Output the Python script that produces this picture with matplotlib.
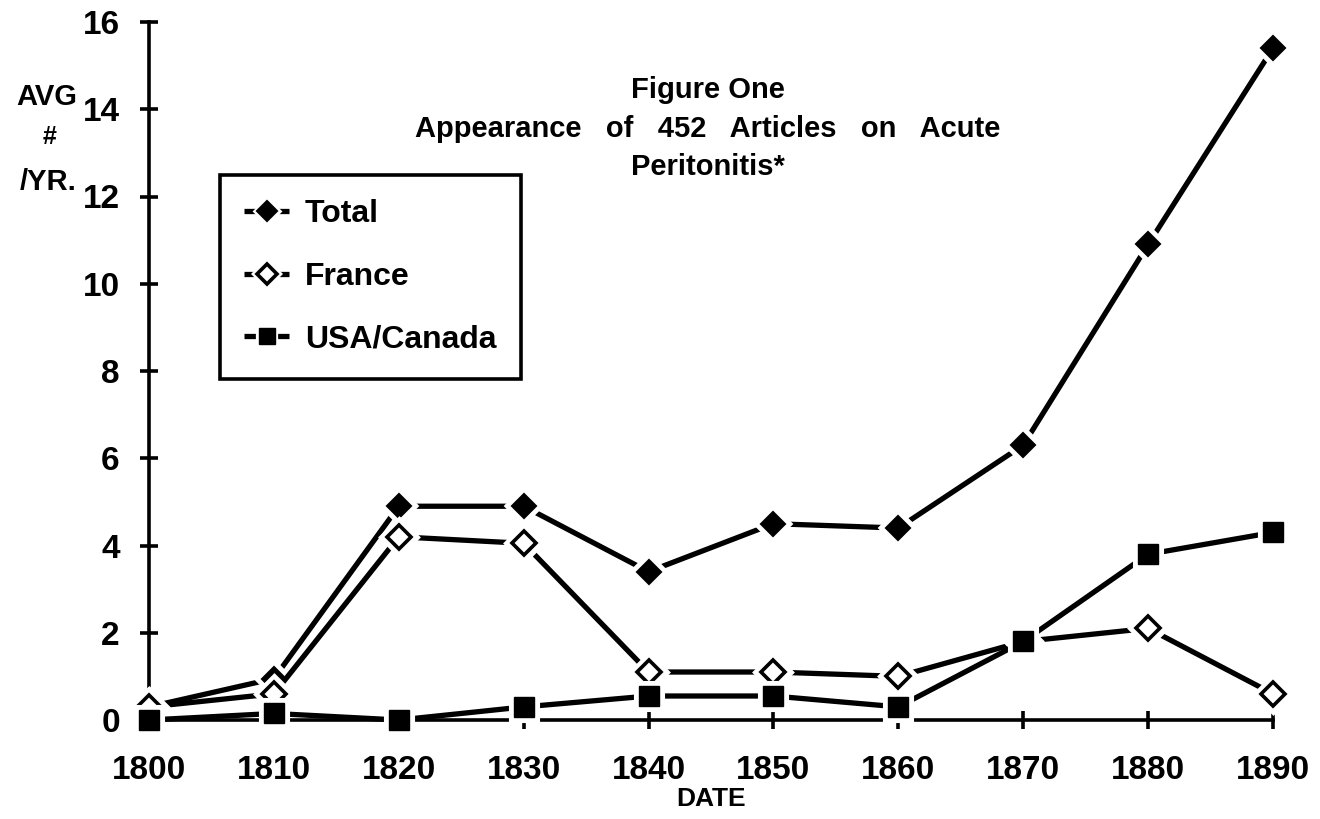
import matplotlib
matplotlib.use("Agg")
import matplotlib.pyplot as plt
from matplotlib.lines import Line2D

plt.rcParams['font.family'] = ['Liberation Sans', 'DejaVu Sans']
plt.rcParams['font.weight'] = 'bold'

years = [1800, 1810, 1820, 1830, 1840, 1850, 1860, 1870, 1880, 1890]
total = [0.3, 0.95, 4.9, 4.9, 3.4, 4.5, 4.4, 6.3, 10.9, 15.4]
france = [0.3, 0.6, 4.2, 4.05, 1.1, 1.1, 1.0, 1.8, 2.1, 0.6]
usa_canada = [0.0, 0.15, 0.0, 0.3, 0.55, 0.55, 0.3, 1.8, 3.8, 4.3]
series_names = ["Total", "France", "USA/Canada"]
y_ticks = [0, 2, 4, 6, 8, 10, 12, 14, 16]
title_lines = ["Figure One", "Appearance   of   452   Articles   on   Acute", "Peritonitis*"]

W, H = 1320, 819
fig = plt.figure(figsize=(W / 100, H / 100), dpi=100)
ax = fig.add_axes([149 / W, 1 - 720 / H, (1273 - 149) / W, (720 - 22) / H])

styles = [
    dict(marker='D', ms=12, mfc='black', mec='black', mew=1.5),
    dict(marker='D', ms=12.5, mfc='white', mec='black', mew=2.6),
    dict(marker='s', ms=14, mfc='black', mec='black', mew=1.0),
]
data = [total, france, usa_canada]
lw = 3.8
halo_extra = 7

handles = []
for i, (vals, st) in enumerate(zip(data, styles)):
    z = 3 + i * 3
    ax.plot(years, vals, color='black', lw=lw, solid_capstyle='butt', zorder=z, clip_on=False)
    ax.plot(years, vals, ls='none', marker=st['marker'], ms=st['ms'], mfc='white', mec='white',
            mew=st['mew'] + halo_extra, zorder=z + 1, clip_on=False)
    ax.plot(years, vals, ls='none', zorder=z + 2, clip_on=False, **st)
    lst = dict(st)
    lst['ms'] = st['ms'] * 0.82
    h_line = Line2D([], [], color='black', lw=lw, solid_capstyle='butt')
    h_halo = Line2D([], [], ls='none', marker=st['marker'], ms=lst['ms'], mfc='white', mec='white',
                    mew=st['mew'] + 3.5)
    h_mark = Line2D([], [], ls='none', **lst)
    handles.append((h_line, h_halo, h_mark))

ax.set_xlim(1800, 1890)
ax.set_ylim(0, 16)
ax.set_xticks(years)
ax.set_yticks(y_ticks)
ax.set_xticklabels([str(y) for y in years], fontsize=24, fontweight='bold')
ax.set_yticklabels([str(v) for v in y_ticks], fontsize=24, fontweight='bold')
for s in ['top', 'right']:
    ax.spines[s].set_visible(False)
for s in ['left', 'bottom']:
    ax.spines[s].set_linewidth(2.6)
ax.tick_params(axis='both', direction='inout', length=13, width=2.6)
ax.tick_params(axis='y', pad=14.5)
ax.tick_params(axis='x', pad=18.5)
ax.set_xlabel("DATE", fontsize=19, fontweight='bold', labelpad=1)

fig.text(47 / W, 1 - 97 / H, "AVG", fontsize=21, fontweight='bold', ha='center', va='center')
fig.text(50 / W, 1 - 137 / H, "#", fontsize=18, fontweight='bold', ha='center', va='center')
fig.text(48 / W, 1 - 182 / H, "/YR.", fontsize=21, fontweight='bold', ha='center', va='center')

for t, yp in zip(title_lines, [90, 129, 167]):
    fig.text(708 / W, 1 - yp / H, t, fontsize=21, fontweight='bold', ha='center', va='center')

leg = ax.legend(handles, series_names, loc='upper left',
                bbox_to_anchor=(220 / W, 1 - 175 / H), bbox_transform=fig.transFigure,
                borderaxespad=0, prop=dict(weight='bold', size=23),
                handlelength=1.4, handletextpad=0.5, labelspacing=1.02, borderpad=0.76,
                fancybox=False, framealpha=1, edgecolor='black')
leg.get_frame().set_linewidth(2.6)
leg.set_zorder(20)

fig.savefig("out.png", dpi=100, facecolor='white')
